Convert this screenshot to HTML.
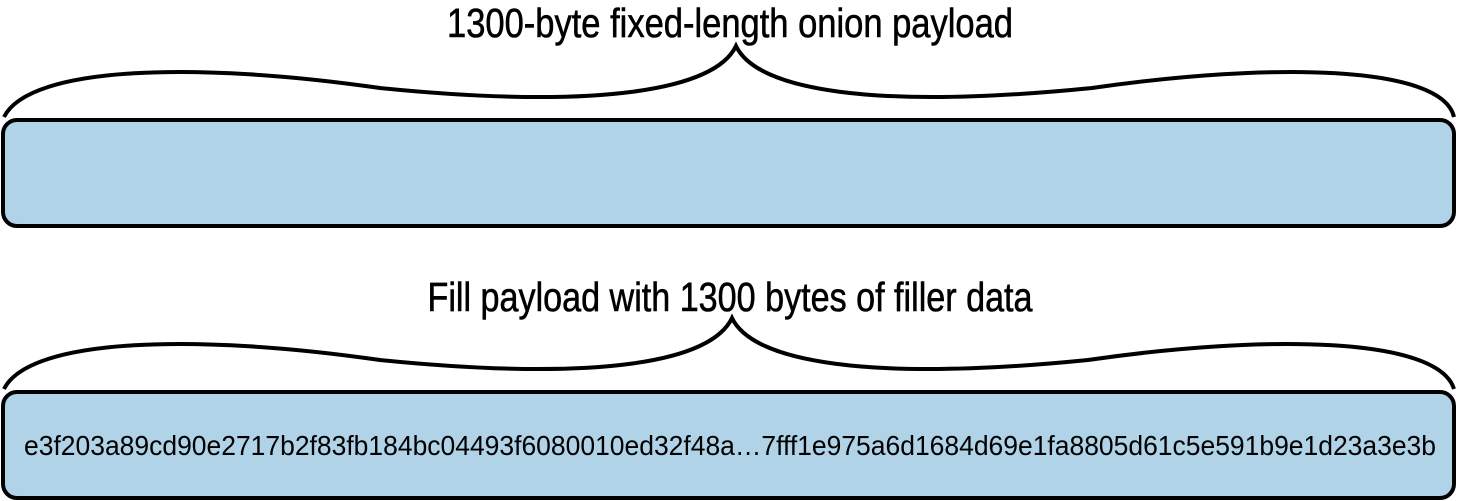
<!DOCTYPE html>
<html><head><style>html,body{margin:0;padding:0;background:#fff;}svg{display:block}</style></head>
<body>
<svg width="1458" height="501" viewBox="0 0 1458 501" xmlns="http://www.w3.org/2000/svg">
<g font-family="Liberation Sans, sans-serif" fill="#000" stroke="#000" stroke-width="0.6">
<text x="730" y="37" font-size="41" text-anchor="middle" textLength="566" lengthAdjust="spacingAndGlyphs">1300-byte fixed-length onion payload</text>
<text x="730" y="311" font-size="41" text-anchor="middle" textLength="605" lengthAdjust="spacingAndGlyphs">Fill payload with 1300 bytes of filler data</text>
</g>
<g fill="none" stroke="#000" stroke-width="4">
<path d="M4,117 C30,65 200,62 380,88 C600,110 715,90 736,46 C757,90 872,110 1092,88 C1272,62 1442,65 1454,117"/>
<path d="M4,389 C30,337 200,334 380,360 C600,382 711,362 732,318 C753,362 868,382 1088,360 C1268,334 1438,337 1454,389"/>
</g>
<rect x="3" y="120" width="1451" height="106" rx="14" fill="#b1d3e8" stroke="#000" stroke-width="4"/>
<rect x="3" y="392" width="1451" height="106" rx="14" fill="#b1d3e8" stroke="#000" stroke-width="4"/>
<text x="730" y="455" font-family="Liberation Sans, sans-serif" font-size="28" text-anchor="middle" textLength="1412" lengthAdjust="spacingAndGlyphs">e3f203a89cd90e2717b2f83fb184bc04493f6080010ed32f48a…7fff1e975a6d1684d69e1fa8805d61c5e591b9e1d23a3e3b</text>
</svg>
</body></html>
